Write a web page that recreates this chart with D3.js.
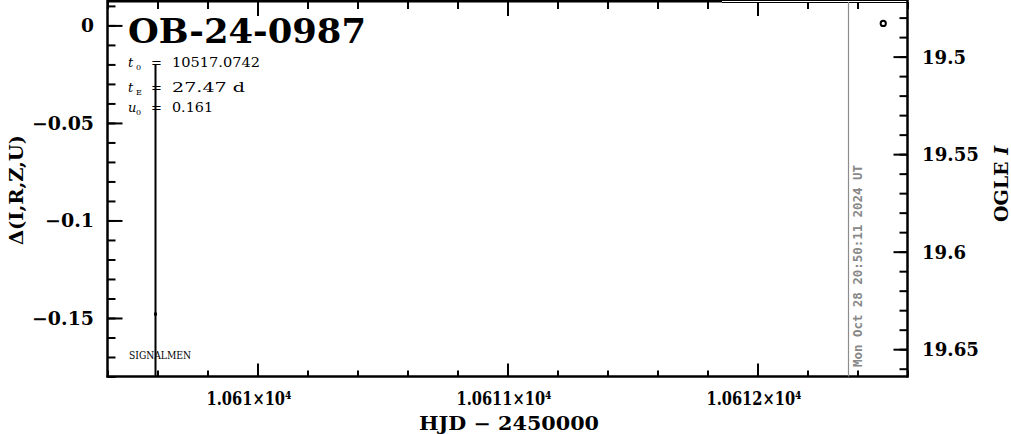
<!DOCTYPE html>
<html><head><meta charset="utf-8">
<script src="https://cdn.jsdelivr.net/npm/d3@7"></script>
<style>html,body{margin:0;padding:0;background:#fff;} svg{display:block;}</style>
</head><body>
<svg id="c" width="1011" height="434"></svg>
<script>
// ---- data ----
const eventName = "OB-24-0987";
const paramNames = [["t","0"],["t","E"],["u","0"]];
const paramValues = ["10517.0742","27.47 d","0.161"];
const xMajorTicks = [10610, 10611, 10612];
const xTickLabels = ["1.061×10⁴", "1.0611×10⁴", "1.0612×10⁴"];
const leftMajorTicks = [0, -0.05, -0.1, -0.15];
const leftTickLabels = ["0", "−0.05", "−0.1", "−0.15"];
const rightMajorTicks = [19.5, 19.55, 19.6, 19.65];
const rightTickLabels = ["19.5", "19.55", "19.6", "19.65"];
const sigDates = [10609.592];
const sigDelta = [-0.148];
const sigErr = [0.128];
const ogleDates = [10612.503];
const ogleMag = [19.483];
const nowDate = 10612.364;
const nowLabel = "Mon Oct 28 20:50:11 2024 UT";
const xLabel = "HJD − 2450000";
const leftLabel = "Δ(I,R,Z,U)";
const telescopeLabel = "SIGNALMEN";

// ---- layout ----
const L = 107.5, R = 907.5, T = 2, B = 376.5;
const x = d3.scaleLinear().domain([10609.4, 10612.6]).range([L, R]);
const yL = d3.scaleLinear().domain([-0.18, 0.012]).range([B, T]);
const yR = d3.scaleLinear().domain([19.664, 19.472]).range([B, T]);

const svg = d3.select("#c");
const serif = "'DejaVu Serif', serif";

const xMinor = d3.range(0, 17).map(i => Math.round((10609.4 + i * 0.2) * 10) / 10);
const lMinor = d3.range(-18, 2).map(i => i / 100);
const rMinor = d3.range(1948, 1967).map(i => i / 100);

function axisG(axis, tx, ty) {
  const g = svg.append("g").attr("transform", `translate(${tx},${ty})`).call(axis);
  g.select(".domain").remove();
  g.selectAll("line").attr("stroke", "#000").attr("stroke-width", 2);
  g.selectAll("text").remove();
  return g;
}
axisG(d3.axisBottom(x).tickValues(xMinor).tickSizeInner(-6).tickSizeOuter(0), 0, B);
axisG(d3.axisBottom(x).tickValues(xMajorTicks).tickSizeInner(-13).tickSizeOuter(0), 0, B);
axisG(d3.axisTop(x).tickValues(xMinor).tickSizeInner(-7).tickSizeOuter(0), 0, T);
axisG(d3.axisTop(x).tickValues(xMajorTicks).tickSizeInner(-14).tickSizeOuter(0), 0, T);
axisG(d3.axisLeft(yL).tickValues(lMinor).tickSizeInner(-8).tickSizeOuter(0), L, 0);
axisG(d3.axisLeft(yL).tickValues(leftMajorTicks).tickSizeInner(-15).tickSizeOuter(0), L, 0);
axisG(d3.axisRight(yR).tickValues(rMinor).tickSizeInner(-8).tickSizeOuter(0), R, 0);
axisG(d3.axisRight(yR).tickValues(rightMajorTicks).tickSizeInner(-14).tickSizeOuter(0), R, 0);

// frame
svg.append("line").attr("x1", L).attr("x2", L).attr("y1", 0).attr("y2", B + 1).attr("stroke", "#000").attr("stroke-width", 2.5);
svg.append("line").attr("x1", L - 1).attr("x2", R + 1).attr("y1", B).attr("y2", B).attr("stroke", "#000").attr("stroke-width", 2.5);
svg.append("line").attr("x1", R).attr("x2", R).attr("y1", 0).attr("y2", B + 1).attr("stroke", "#000").attr("stroke-width", 2.5);
svg.append("line").attr("x1", L).attr("x2", 722).attr("y1", 1).attr("y2", 1).attr("stroke", "#000").attr("stroke-width", 3);
svg.append("line").attr("x1", 722).attr("x2", R).attr("y1", 0.5).attr("y2", 0.5).attr("stroke", "#000").attr("stroke-width", 1);
svg.append("line").attr("x1", 722).attr("x2", R).attr("y1", 2.5).attr("y2", 2.5).attr("stroke", "#000").attr("stroke-width", 1);

// "now" line
svg.append("line").attr("x1", x(nowDate)).attr("x2", x(nowDate)).attr("y1", T).attr("y2", B)
  .attr("stroke", "#8c8c8c").attr("stroke-width", 1.2);
svg.append("text").attr("transform", `translate(${x(nowDate) + 13},367) rotate(-90)`)
  .attr("font-family", "'DejaVu Sans Mono', monospace").attr("font-weight", "bold")
  .attr("font-size", 12.5).attr("fill", "#888")
  .attr("textLength", 202).attr("lengthAdjust", "spacingAndGlyphs").text(nowLabel);

// data: clip
svg.append("clipPath").attr("id", "clip").append("rect").attr("x", L).attr("y", T).attr("width", R - L).attr("height", B - T);
const dg = svg.append("g").attr("clip-path", "url(#clip)");
sigDates.forEach((d, i) => {
  dg.append("line").attr("x1", x(d)).attr("x2", x(d))
    .attr("y1", yL(sigDelta[i] + sigErr[i])).attr("y2", yL(sigDelta[i] - sigErr[i]))
    .attr("stroke", "#000").attr("stroke-width", 2);
  dg.append("rect").attr("x", x(d) - 1.5).attr("y", yL(sigDelta[i]) - 1.5).attr("width", 3).attr("height", 3).attr("fill", "#000");
});
ogleDates.forEach((d, i) => {
  dg.append("circle").attr("cx", x(d)).attr("cy", yR(ogleMag[i])).attr("r", 2.6)
    .attr("fill", "none").attr("stroke", "#000").attr("stroke-width", 2);
});

// tick labels
const charW = c => (c === "." ? 6 : c === "−" ? 17 : 13);
const wOf = s => Array.from(s).reduce((a, c) => a + charW(c), 0);
leftMajorTicks.forEach((v, i) => {
  svg.append("text").attr("x", 94).attr("y", yL(v) + 7).attr("text-anchor", "end")
    .attr("font-family", serif).attr("font-weight", "bold").attr("font-size", 18)
    .attr("textLength", wOf(leftTickLabels[i])).attr("lengthAdjust", "spacingAndGlyphs")
    .text(leftTickLabels[i]);
});
rightMajorTicks.forEach((v, i) => {
  svg.append("text").attr("x", 922).attr("y", yR(v) + 7).attr("text-anchor", "start")
    .attr("font-family", serif).attr("font-weight", "bold").attr("font-size", 18)
    .attr("textLength", wOf(rightTickLabels[i]) - 1).attr("lengthAdjust", "spacingAndGlyphs")
    .text(rightTickLabels[i]);
});
const xcw = c => (c === "." ? 5 : c === "×" ? 12 : c === "⁴" ? 8 : 10);
xMajorTicks.forEach((v, i) => {
  const s = xTickLabels[i];
  const w = Array.from(s).reduce((a, c) => a + xcw(c), 0);
  svg.append("text").attr("x", x(v) - 51).attr("y", 405)
    .attr("font-family", serif).attr("font-weight", "bold").attr("font-size", 19)
    .attr("textLength", w).attr("lengthAdjust", "spacingAndGlyphs").text(s);
});

// axis titles
svg.append("text").attr("x", 509).attr("y", 430).attr("text-anchor", "middle")
  .attr("font-family", serif).attr("font-weight", "bold").attr("font-size", 18)
  .attr("textLength", 180).attr("lengthAdjust", "spacingAndGlyphs").text(xLabel);
svg.append("text").attr("transform", "translate(23,190) rotate(-90)").attr("text-anchor", "middle")
  .attr("font-family", serif).attr("font-weight", "bold").attr("font-size", 19)
  .attr("textLength", 110).attr("lengthAdjust", "spacingAndGlyphs").text(leftLabel);
const rl = svg.append("text").attr("transform", "translate(1008,184) rotate(-90)").attr("text-anchor", "middle")
  .attr("font-family", serif).attr("font-weight", "bold").attr("font-size", 19);
rl.append("tspan").text("OGLE ");
rl.append("tspan").attr("font-style", "italic").text("I");

// title and params
svg.append("text").attr("x", 128).attr("y", 43)
  .attr("font-family", serif).attr("font-weight", "bold").attr("font-size", 33)
  .attr("textLength", 238).attr("lengthAdjust", "spacingAndGlyphs").text(eventName);
const baseY = [67, 91.5, 112];
const valW = [88, 73, 41];
paramNames.forEach((p, i) => {
  svg.append("text").attr("x", 128).attr("y", baseY[i]).attr("font-family", serif)
    .attr("font-style", "italic").attr("font-size", 13).text(p[0]);
  svg.append("text").attr("x", 136).attr("y", baseY[i] + 3).attr("font-family", serif)
    .attr("font-size", 8).text(p[1]);
  svg.append("text").attr("x", 151).attr("y", baseY[i]).attr("font-family", serif)
    .attr("font-size", 13).text("=");
  svg.append("text").attr("x", 172).attr("y", baseY[i]).attr("font-family", serif)
    .attr("font-size", 12).attr("textLength", valW[i]).attr("lengthAdjust", "spacingAndGlyphs")
    .text(paramValues[i]);
});
svg.append("text").attr("x", 129).attr("y", 359).attr("font-family", serif)
  .attr("font-size", 11).attr("textLength", 62).attr("lengthAdjust", "spacingAndGlyphs").text(telescopeLabel);
</script>
</body></html>
